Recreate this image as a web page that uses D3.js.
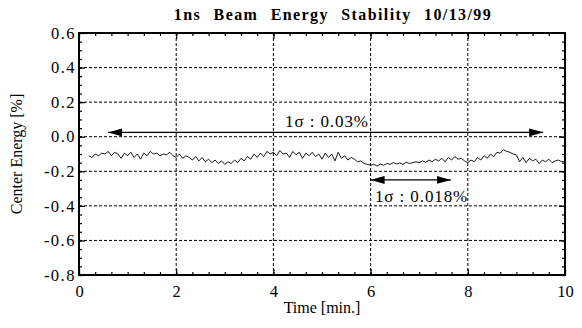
<!DOCTYPE html>
<html>
<head>
<meta charset="utf-8">
<script src="https://cdn.jsdelivr.net/npm/d3@7"></script>
<style>
  body { margin: 0; background: #fff; }
</style>
</head>
<body>
<svg id="chart" width="582" height="328"></svg>
<script>
// samples every 4 s, starting at 0.2 min
const startTime = 0.2;
const sampleStep = 4 / 60;
const energy = [
  -0.11, -0.12, -0.10, -0.11, -0.095, -0.10, -0.085, -0.11, -0.09, -0.10, -0.125, -0.095,
  -0.11, -0.09, -0.12, -0.10, -0.13, -0.095, -0.11, -0.085, -0.10, -0.095, -0.11, -0.10, -0.105, -0.09, -0.11,
  -0.12, -0.10, -0.125, -0.11, -0.12, -0.135, -0.115, -0.14, -0.12, -0.145, -0.13, -0.15, -0.135, -0.155, -0.14,
  -0.16, -0.145, -0.155, -0.135, -0.15, -0.125, -0.14, -0.115, -0.13, -0.10, -0.12, -0.095, -0.115, -0.085, -0.10,
  -0.09, -0.11, -0.08, -0.10, -0.095, -0.12, -0.085, -0.105, -0.09, -0.125, -0.095, -0.11, -0.09, -0.115, -0.10,
  -0.13, -0.095, -0.12, -0.10, -0.14, -0.09, -0.125, -0.11, -0.135, -0.12, -0.13, -0.145, -0.14, -0.155, -0.16,
  -0.165, -0.16, -0.17, -0.158, -0.165, -0.155, -0.16, -0.15, -0.158, -0.152, -0.16, -0.148, -0.155, -0.15, -0.145,
  -0.15, -0.14, -0.148, -0.135, -0.145, -0.13, -0.14, -0.125, -0.145, -0.12, -0.135, -0.115, -0.13, -0.125, -0.14,
  -0.15, -0.135, -0.145, -0.12, -0.135, -0.11, -0.125, -0.10, -0.115, -0.09, -0.095, -0.075, -0.085, -0.09, -0.10,
  -0.105, -0.145, -0.12, -0.15, -0.125, -0.14, -0.13, -0.155, -0.135, -0.145, -0.13, -0.15, -0.14, -0.135, -0.145,
  -0.14
];

const xTicks = [0, 2, 4, 6, 8, 10];
const yTicks = [0.6, 0.4, 0.2, 0.0, -0.2, -0.4, -0.6, -0.8];

// double-headed arrows: [x1, x2, y]
const arrows = [
  [0.6, 9.55, 0.025],
  [6.0, 7.65, -0.25]
];
const notes = [
  { x: 4.24, y: 0.055, text: "1σ : 0.03%" },
  { x: 6.09, y: -0.376, text: "1σ : 0.018%" }
];

const FONT = "'Liberation Serif', 'Times New Roman', serif";

const svg = d3.select("#chart");
const margin = { top: 33, right: 17, bottom: 53, left: 79 };
const width = 582 - margin.left - margin.right;
const height = 328 - margin.top - margin.bottom;

const x = d3.scaleLinear().domain([0, 10]).range([0, width]);
const y = d3.scaleLinear().domain([-0.8, 0.6]).range([height, 0]);

const g = svg.append("g").attr("transform", `translate(${margin.left},${margin.top})`);

svg.append("text")
  .attr("x", 333)
  .attr("y", 20)
  .attr("text-anchor", "middle")
  .attr("font-family", FONT)
  .attr("font-size", 16)
  .attr("font-weight", "bold")
  .style("letter-spacing", "1.4px")
  .style("word-spacing", "7px")
  .text("1ns Beam Energy Stability 10/13/99");

// grid
g.append("g")
  .selectAll("line")
  .data(xTicks.slice(1, -1))
  .enter().append("line")
  .attr("x1", d => x(d)).attr("x2", d => x(d))
  .attr("y1", 0).attr("y2", height)
  .attr("stroke", "#000")
  .attr("stroke-width", 1)
  .attr("stroke-dasharray", "3,2");

g.append("g")
  .selectAll("line")
  .data(yTicks.slice(1, -1))
  .enter().append("line")
  .attr("x1", 0).attr("x2", width)
  .attr("y1", d => y(d)).attr("y2", d => y(d))
  .attr("stroke", "#000")
  .attr("stroke-width", 1)
  .attr("stroke-dasharray", "3,2");

// axes with inward ticks
const xMinor = d3.range(0, 30).map(i => i / 3);
const yMinor = d3.range(0, 28).map(i => -0.8 + i * 0.05);

function addAxis(axis, transform, labels) {
  const a = g.append("g").attr("transform", transform).call(axis);
  a.select(".domain").remove();
  a.selectAll("line").attr("stroke", "#000").attr("stroke-width", 1.2);
  if (!labels) a.selectAll("text").remove();
  a.selectAll("text")
    .attr("font-family", FONT)
    .attr("font-size", 16.5)
    .attr("fill", "#000");
  return a;
}

addAxis(d3.axisBottom(x).tickValues(xTicks).tickSize(-6).tickPadding(10).tickFormat(d3.format("d")),
  `translate(0,${height})`, true);
addAxis(d3.axisBottom(x).tickValues(xMinor).tickSize(-3), `translate(0,${height})`, false);
addAxis(d3.axisTop(x).tickValues(xTicks).tickSize(-6), "translate(0,0)", false);
addAxis(d3.axisTop(x).tickValues(xMinor).tickSize(-3), "translate(0,0)", false);

const yl = addAxis(d3.axisLeft(y).tickValues(yTicks).tickSize(-6).tickPadding(3),
  "translate(0,0)", true);
yl.selectAll("text")
  .attr("letter-spacing", 1.5)
  .text(d => d3.format(".1f")(d).replace("−", "-"));
addAxis(d3.axisLeft(y).tickValues(yMinor).tickSize(-3), "translate(0,0)", false);
addAxis(d3.axisRight(y).tickValues(yTicks).tickSize(-6), `translate(${width},0)`, false);
addAxis(d3.axisRight(y).tickValues(yMinor).tickSize(-3), `translate(${width},0)`, false);

// frame
g.append("rect")
  .attr("width", width).attr("height", height)
  .attr("fill", "none")
  .attr("stroke", "#000")
  .attr("stroke-width", 2);

// data line
const line = d3.line()
  .x((d, i) => x(startTime + i * sampleStep))
  .y(d => y(d));

g.append("path")
  .datum(energy)
  .attr("d", line)
  .attr("fill", "none")
  .attr("stroke", "#000")
  .attr("stroke-width", 0.9);

// arrows
const defs = svg.append("defs");
defs.append("marker")
  .attr("id", "head")
  .attr("viewBox", "0 0 14 8")
  .attr("refX", 14).attr("refY", 4)
  .attr("markerWidth", 14).attr("markerHeight", 8)
  .attr("markerUnits", "userSpaceOnUse")
  .attr("orient", "auto-start-reverse")
  .append("path")
  .attr("d", "M0,0L14,4L0,8Z")
  .attr("fill", "#000");

g.append("g")
  .selectAll("line")
  .data(arrows)
  .enter().append("line")
  .attr("x1", d => x(d[0])).attr("x2", d => x(d[1]))
  .attr("y1", d => y(d[2])).attr("y2", d => y(d[2]))
  .attr("stroke", "#000")
  .attr("stroke-width", 1.2)
  .attr("marker-start", "url(#head)")
  .attr("marker-end", "url(#head)");

g.append("g")
  .selectAll("text")
  .data(notes)
  .enter().append("text")
  .attr("x", d => x(d.x))
  .attr("y", d => y(d.y))
  .attr("font-family", FONT)
  .attr("font-size", 17)
  .attr("letter-spacing", 0.9)
  .text(d => d.text);

// axis titles
svg.append("text")
  .attr("x", margin.left + width / 2)
  .attr("y", 313)
  .attr("text-anchor", "middle")
  .attr("font-family", FONT)
  .attr("font-size", 16)
  .text("Time [min.]");

svg.append("text")
  .attr("transform", `translate(22,${margin.top + height / 2}) rotate(-90)`)
  .attr("text-anchor", "middle")
  .attr("font-family", FONT)
  .attr("font-size", 16)
  .text("Center Energy [%]");
</script>
</body>
</html>
